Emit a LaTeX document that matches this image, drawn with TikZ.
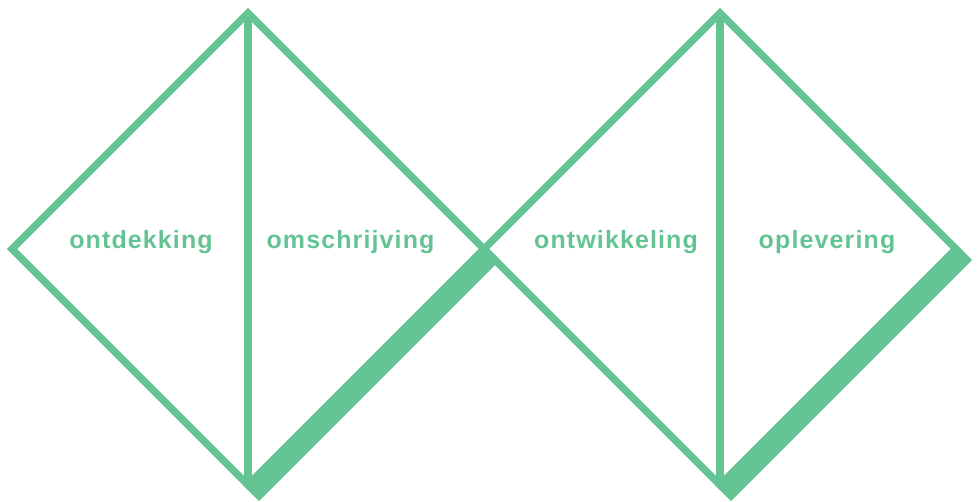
\documentclass[tikz,border=0pt]{standalone}
\usepackage{fontspec}
\usetikzlibrary{calc}
\newfontfamily\lblfont[LetterSpace=4.5]{Liberation Sans}
\definecolor{dgreen}{HTML}{64C393}
\begin{document}
\begin{tikzpicture}[x=1pt,y=-1pt,
  edge/.style={draw=dgreen, line width=7.3pt, line join=miter},
  divider/.style={draw=dgreen, line width=8pt},
  lbl/.style={text=dgreen, font=\lblfont\bfseries\fontsize{25}{30}\selectfont, anchor=base, inner sep=0pt}]
\useasboundingbox (0,0) rectangle (977,501);
% left diamond
\coordinate (L1) at (12,249);
\coordinate (T1) at (248,13);
\coordinate (R1) at (484,249);
\coordinate (B1) at (248,485);
% right diamond
\coordinate (T2) at (720,13);
\coordinate (R2) at (956,249);
\coordinate (B2) at (720,485);
\coordinate (R1s) at ($(R1)+(11,11)$);
\coordinate (B1s) at ($(B1)+(11,11)$);
\coordinate (R2s) at ($(R2)+(11,11)$);
\coordinate (B2s) at ($(B2)+(11,11)$);
% shadows
\draw[edge, fill=dgreen] (R1) -- (R1s) -- (B1s) -- (B1) -- cycle;
\draw[edge, fill=dgreen] (R2) -- (R2s) -- (B2s) -- (B2) -- cycle;
% outlines
\draw[edge] (L1) -- (T1) -- (R1) -- (B1) -- cycle;
\draw[edge] (R1) -- (T2) -- (R2) -- (B2) -- cycle;
\draw[divider] (T1) -- (B1);
\draw[divider] (T2) -- (B2);
% labels
\node[lbl] (ontdekking) at (141,248) {ontdekking};
\node[lbl] (omschrijving) at (350.5,248) {omschrijving};
\node[lbl] (ontwikkeling) at (616,248) {ontwikkeling};
\node[lbl] (oplevering) at (827,248) {oplevering};
\end{tikzpicture}
\end{document}
